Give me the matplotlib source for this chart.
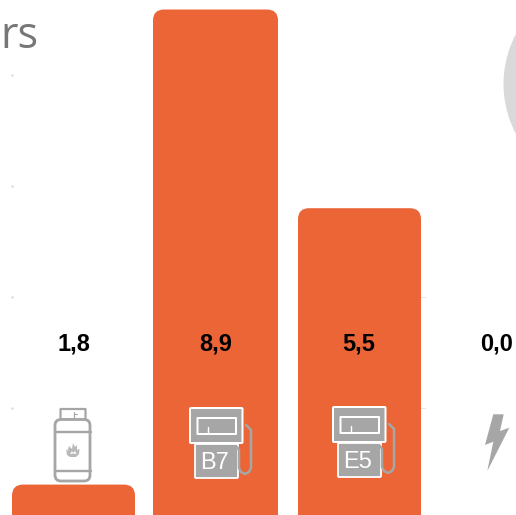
import matplotlib
matplotlib.use('Agg')
import matplotlib.pyplot as plt
from matplotlib.patches import FancyBboxPatch, Circle, Polygon

# values
fuels = ['GPL', 'B7', 'E5', 'Electric']
bar_heights = [0.31, 4.59, 2.80, 0.0]
value_labels = ['1,8', '8,9', '5,5', '0,0']
grid_values = [1, 2, 3, 4]

ORANGE = '#ec6536'
ICON = '#a6a6a6'
W = 516
H = 515
PX = 0.72  # one pixel in points at dpi 100

fig = plt.figure(figsize=(W / 100, H / 100), dpi=100)
plt.rcParams['font.family'] = ['Liberation Sans', 'DejaVu Sans']

# bars
ax = fig.add_axes([0, 0, 1, 1])
x_step = 143.0
y_step = 111.0
ax.set_xlim(-73.5 / x_step, (W - 73.5) / x_step)
ax.set_ylim((519 - H) / y_step, 519 / y_step)
ax.axis('off')

# grid is almost white, only small stubs of it show
for g in grid_values:
    ax.plot([-61.5 / x_step], [g], marker='s', ms=0.7, color='#dadada', zorder=1)
for g in grid_values[:2]:
    ax.plot([2 + 61.5 / x_step, 2 + 65.5 / x_step], [g, g], color='#e6e6e6', lw=PX, zorder=1)

bars = ax.bar(range(len(fuels)), bar_heights, width=123 / x_step, color=ORANGE, zorder=2)
bars[1].set_x(1 - 63.5 / x_step)
bars[1].set_width(125 / x_step)
for rect, h in zip(bars, bar_heights):
    rect.set_visible(False)
    if h <= 0:
        continue
    # rounded top, the bottom corners go under the edge of the figure
    ax.add_patch(FancyBboxPatch((rect.get_x(), -0.3), rect.get_width(), h + 0.3,
                                boxstyle='round,pad=0,rounding_size=%f' % (11 / x_step),
                                mutation_aspect=x_step / y_step,
                                fc=ORANGE, ec='none', zorder=2))

# overlay in pixels for title, circle, icons
ov = fig.add_axes([0, 0, 1, 1])
ov.set_xlim(0, W)
ov.set_ylim(H, 0)
ov.axis('off')
ov.patch.set_alpha(0)

ov.add_patch(Circle((610, 84), 106.5, fc='#d9d9d9', ec='none'))

# only the end of the title is inside the crop
ov.text(38.5, 48, 'rs', family='Open Sans', fontsize=31, color='#777777',
        ha='right', va='baseline')

label_x = [74, 216, 359, 497]
for x, s in zip(label_x, value_labels):
    ov.text(x, 343.5, s, fontsize=17, fontweight='bold', color='black',
            ha='center', va='center')


def line(xs, ys, color=ICON, lw=2.0):
    ov.plot(xs, ys, color=color, lw=lw * PX, solid_capstyle='round', solid_joinstyle='round')


def rbox(x0, y0, x1, y1, r, fc, ec, lw):
    ov.add_patch(FancyBboxPatch((x0, y0), x1 - x0, y1 - y0,
                                boxstyle='round,pad=0,rounding_size=%f' % r,
                                fc=fc, ec=ec, lw=lw * PX))


# gas cylinder
rbox(60.5, 409, 85.5, 419.5, 0.1, 'white', ICON, 2.2)
line([74, 74], [412, 419], lw=1.2)
line([74, 77], [413.5, 413.5], lw=1.0)
rbox(55, 419.5, 90, 481, 6, 'white', ICON, 2.8)
line([54.5, 90.5], [432, 432], lw=2.4)
line([54.5, 90.5], [471, 471], lw=2.4)
ov.add_patch(Polygon([(66, 449), (67.5, 451), (69, 446), (72, 449), (73, 443), (75, 447),
                      (77, 445), (77, 450), (79.5, 449), (79, 454), (76, 457), (70, 457), (67, 455)],
                     fc='#b9b9b9', ec='none'))
ov.add_patch(Polygon([(70, 454), (72, 451), (73, 453), (75, 451), (76.5, 454), (73, 453.5)],
                     fc='white', ec='none'))


# fuel pump
def pump(dx, dy, name):
    rbox(190 + dx, 408 + dy, 242.5 + dx, 443 + dy, 1, ICON, 'white', 2.0)
    rbox(197.5 + dx, 418 + dy, 236 + dx, 434 + dy, 0.1, ICON, 'white', 2.0)
    line([208 + dx, 208 + dx], [427 + dy, 433 + dy], color='white', lw=1.4)
    rbox(195 + dx, 444 + dy, 238 + dx, 478 + dy, 1, ICON, 'white', 1.8)
    line([246 + dx, 251 + dx, 251 + dx, 249 + dx, 245 + dx, 241 + dx, 239 + dx, 239 + dx, 237 + dx],
         [425 + dy, 430 + dy, 468 + dy, 472 + dy, 474 + dy, 472 + dy, 468 + dy, 450 + dy, 447 + dy],
         lw=2.5)
    ov.text(215 + dx, 463 + dy, name, fontsize=17, color='white', ha='center', va='center')


pump(0, 0, 'B7')
pump(143, -1, 'E5')

# lightning bolt
ov.add_patch(Polygon([(493.3, 414.3), (503.7, 414.3), (500, 431), (509.3, 427.7),
                      (487.3, 471), (493.3, 441.7), (485, 445)], fc=ICON, ec='none'))

fig.savefig('out.png', dpi=100, facecolor='white')
